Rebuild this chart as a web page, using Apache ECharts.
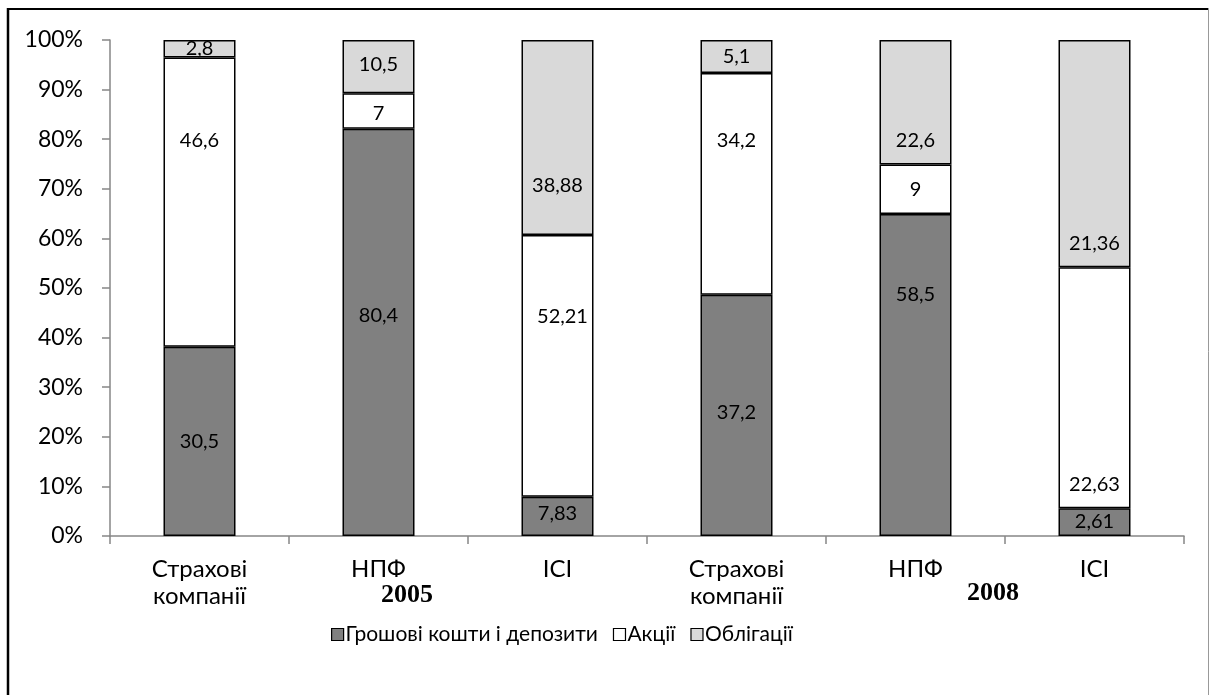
<!DOCTYPE html>
<html>
<head>
<meta charset="utf-8">
<script src="https://cdn.jsdelivr.net/npm/echarts@6/dist/echarts.min.js"></script>
<style>
html,body{margin:0;padding:0;background:#fff;}
#c{width:1212px;height:695px;}
</style>
</head>
<body>
<div id="c"></div>
<script>
const categories = ['Страхові\nкомпанії', 'НПФ', 'ІСІ', 'Страхові\nкомпанії', 'НПФ', 'ІСІ'];
const seriesNames = ['Грошові кошти і депозити', 'Акції', 'Облігації'];
const cash = [30.5, 80.4, 7.83, 37.2, 58.5, 2.61];
const stocks = [46.6, 7, 52.21, 34.2, 9, 22.63];
const bonds = [2.8, 10.5, 38.88, 5.1, 22.6, 21.36];
const yearLabels = ['2005', '2008'];

// label nudges (pixels) mimicking the hand-placed labels of the original
const labelNudgeY = [
  [0, -17, -3, -3, -80, -1],
  [-61, 3, -49, -43, 0, 97],
  [0, -2, 48, 0, 38, 90]
];
const labelNudgeX = [
  [0, 0, 0, 0, 0, 0],
  [0, 0, 5, 0, 0, 0],
  [0, 0, 0, 0, 0, 0]
];

const raw = [cash, stocks, bonds];
const totals = categories.map((_, i) => cash[i] + stocks[i] + bonds[i]);
const colors = ['#808080', '#ffffff', '#d9d9d9'];
const font = 'Lato, "Open Sans", sans-serif';

const series = raw.map((arr, s) => ({
  name: seriesNames[s],
  type: 'bar',
  stack: 'total',
  barWidth: 72,
  data: arr.map((v, i) => ({
    value: v / totals[i] * 100,
    raw: v,
    label: { offset: [labelNudgeX[s][i], labelNudgeY[s][i]] }
  })),
  itemStyle: { color: colors[s], borderColor: '#000', borderWidth: 1.5 },
  label: {
    show: true,
    position: 'inside',
    color: '#000',
    fontFamily: font,
    fontSize: 20,
    formatter: p => String(p.data.raw).replace('.', ',')
  }
}));

const chart = echarts.init(document.getElementById('c'));
chart.setOption({
  animation: false,
  backgroundColor: '#fff',
  grid: { left: 110, right: 28, top: 40, bottom: 159, containLabel: false },
  xAxis: {
    type: 'category',
    data: categories,
    axisLine: { lineStyle: { color: '#868686', width: 1.5 } },
    axisTick: { show: true, length: 8, lineStyle: { color: '#868686', width: 1.5 } },
    axisLabel: { color: '#000', fontFamily: font, fontSize: 24, lineHeight: 27, margin: 20, interval: 0 }
  },
  yAxis: {
    type: 'value',
    min: 0, max: 100, interval: 10,
    axisLine: { show: true, lineStyle: { color: '#868686', width: 1.5 } },
    axisTick: { show: true, length: 8, lineStyle: { color: '#868686', width: 1.5 } },
    splitLine: { show: false },
    axisLabel: { color: '#000', fontFamily: font, fontSize: 23, margin: 27, formatter: v => v + '%' }
  },
  legend: {
    top: 619,
    left: 326,
    itemWidth: 12, itemHeight: 12, itemGap: 15,
    icon: 'rect',
    textStyle: { color: '#000', fontFamily: font, fontSize: 21, padding: [0, 0, 0, -3] },
    data: seriesNames.map((n, i) => ({ name: n, itemStyle: { color: colors[i], borderColor: '#000', borderWidth: 1.2 } }))
  },
  graphic: [
    { type: 'line', shape: { x1: 7, y1: 9, x2: 1209, y2: 9 }, style: { stroke: '#000', lineWidth: 2 }, silent: true },
    { type: 'line', shape: { x1: 8, y1: 8, x2: 8, y2: 695 }, style: { stroke: '#000', lineWidth: 2.5 }, silent: true },
    { type: 'line', shape: { x1: 1208.5, y1: 8, x2: 1208.5, y2: 695 }, style: { stroke: '#999', lineWidth: 1 }, silent: true },
    { type: 'text', x: 407, y: 595, style: { text: yearLabels[0], font: 'bold 26px "Liberation Serif", serif', fill: '#000', textAlign: 'center', textVerticalAlign: 'middle' } },
    { type: 'text', x: 993, y: 593, style: { text: yearLabels[1], font: 'bold 26px "Liberation Serif", serif', fill: '#000', textAlign: 'center', textVerticalAlign: 'middle' } }
  ],
  series: series
});
</script>
</body>
</html>
